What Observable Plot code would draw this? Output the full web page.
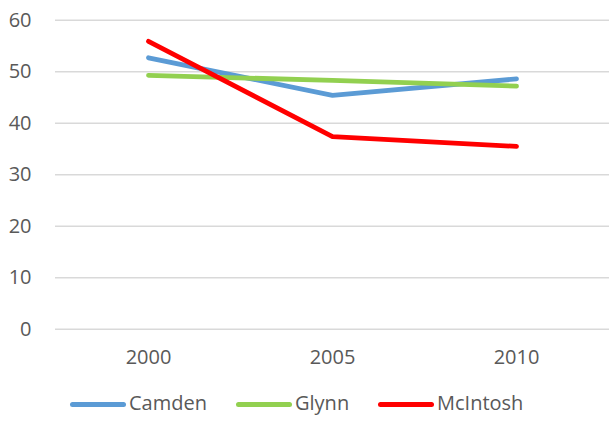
<!DOCTYPE html>
<html>
<head>
<meta charset="utf-8">
<script src="https://cdn.jsdelivr.net/npm/d3@7"></script>
<script src="https://cdn.jsdelivr.net/npm/@observablehq/plot@0.6"></script>
<style>
  html, body { margin: 0; padding: 0; background: #fff; }
  #chart { width: 609px; }
  #legend { position: relative; width: 609px; height: 55px; font-family: "Open Sans", sans-serif; font-size: 20px; color: #595959; }
  .item { position: absolute; top: 0; height: 55px; display: flex; align-items: center; }
  .sw { display: inline-block; width: 56px; height: 5px; border-radius: 3px; margin-right: 3px; margin-top: 4px; }
</style>
</head>
<body>
<div id="chart"></div>
<div id="legend"></div>
<script>
const years = ["2000", "2005", "2010"];
const seriesNames = ["Camden", "Glynn", "McIntosh"];
const camden = [52.7, 45.4, 48.6];
const glynn = [49.3, 48.3, 47.2];
const mcintosh = [55.9, 37.4, 35.5];
const colors = ["#5B9BD5", "#92D050", "#FF0000"];
const yTicks = [0, 10, 20, 30, 40, 50, 60];

const valuesBySeries = [camden, glynn, mcintosh];
const data = [];
seriesNames.forEach((s, i) => {
  years.forEach((y, j) => data.push({series: s, year: y, value: valuesBySeries[i][j]}));
});

const chart = Plot.plot({
  width: 609,
  height: 375,
  marginLeft: 55,
  marginRight: 0,
  marginTop: 19.7,
  marginBottom: 46.3,
  style: {fontFamily: "'Open Sans', sans-serif", fontSize: "20px", color: "#595959", background: "#fff"},
  x: {type: "point", domain: years, padding: 0.5, label: null},
  y: {domain: [0, 60], ticks: yTicks, label: null},
  color: {domain: seriesNames, range: colors},
  marks: [
    Plot.gridY(yTicks, {stroke: "#D9D9D9", strokeOpacity: 1, strokeWidth: 1.5}),
    Plot.axisY(yTicks, {tickSize: 0, tickPadding: 24, label: null, fill: "#595959"}),
    Plot.axisX({tickSize: 0, tickPadding: 21, label: null, fill: "#595959"}),
    Plot.line(data, {x: "year", y: "value", z: "series", stroke: "series", strokeWidth: 4.8, strokeLinecap: "round", strokeLinejoin: "round"})
  ]
});
document.getElementById("chart").appendChild(chart);

const legendX = [70, 236, 378];
const legend = document.getElementById("legend");
seriesNames.forEach((s, i) => {
  const item = document.createElement("div");
  item.className = "item";
  item.style.left = legendX[i] + "px";
  const sw = document.createElement("span");
  sw.className = "sw";
  sw.style.background = colors[i];
  item.appendChild(sw);
  const t = document.createElement("span");
  t.textContent = s;
  item.appendChild(t);
  legend.appendChild(item);
});
</script>
</body>
</html>
